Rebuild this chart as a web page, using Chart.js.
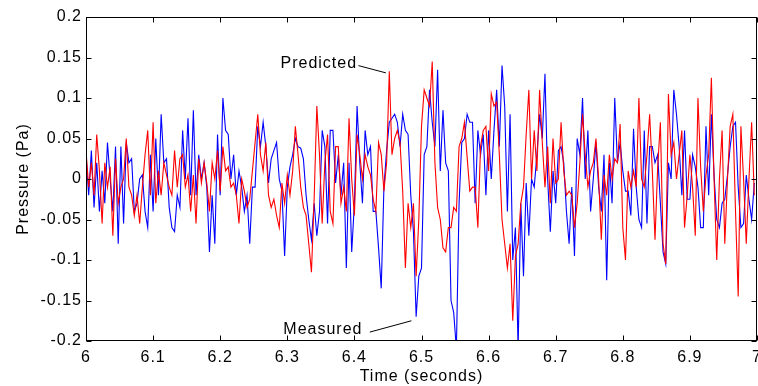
<!DOCTYPE html>
<html>
<head>
<meta charset="utf-8">
<script src="https://cdn.jsdelivr.net/npm/chart.js@4.4.1/dist/chart.umd.min.js"></script>
<style>
  html, body { margin: 0; padding: 0; background: #fff; }
  #wrap { width: 758px; height: 386px; }
</style>
</head>
<body>
<div id="wrap"><canvas id="c" width="758" height="386"></canvas></div>
<script>
// ---- data ----
const sampleStart = 6.0;      // seconds
const sampleStep = 0.004;     // seconds between samples

const measured = [
  0.03, -0.02, 0.035, -0.035, 0.02, -0.04, 0.01, -0.03, 0.045, 0.0, -0.04, 0.04, -0.08, 0.04, -0.055, 0.045,
  0.02, 0.025, -0.04, -0.03, 0.0, 0.005, -0.04, -0.06, 0.03, -0.04, 0.05, -0.02, 0.08, 0.02, 0.025, -0.035,
  -0.06, -0.065, -0.02, -0.035, 0.06, 0.0, 0.075, -0.02, 0.085, -0.02, 0.03, 0.0, 0.02, -0.01, -0.09, -0.02,
  -0.08, 0.055, -0.02, 0.1, 0.06, 0.055, 0.0, 0.03, -0.02, 0.01, -0.01, -0.04, -0.02, -0.08, -0.01, -0.01,
  0.065, 0.04, 0.07, 0.04, -0.005, 0.025, 0.035, 0.045, 0.0, -0.015, -0.095, -0.01, 0.015, 0.03, 0.05, 0.04,
  0.038, 0.025, -0.02, -0.05, -0.075, -0.03, -0.07, -0.04, 0.06, 0.04, -0.055, 0.06, 0.06, -0.005, 0.03,
  -0.02, 0.02, -0.11, 0.02, -0.09, -0.03, 0.09, 0.02, -0.03, 0.06, 0.03, 0.04, -0.04, -0.04, -0.085, -0.135,
  -0.01, 0.035, 0.07, 0.075, 0.08, 0.07, 0.04, 0.08, 0.06, 0.055, -0.02, -0.065, -0.17, -0.12, -0.11,
  0.03, 0.04, 0.11, 0.07, 0.04, 0.135, 0.01, 0.085, 0.02, 0.01, -0.15, -0.165, -0.21, -0.03, 0.045, 0.05,
  0.08, 0.07, 0.07, -0.03, 0.06, 0.03, 0.055, -0.02, 0.06, 0.0, 0.06, 0.11, 0.04, 0.14, 0.09,
  -0.04, 0.08, -0.1, -0.06, -0.21, -0.03, -0.12, -0.005, -0.07, 0.0, -0.01, 0.03, 0.08, 0.05, 0.13, 0.0,
  -0.065, 0.01, -0.03, 0.035, 0.04, 0.02, -0.04, -0.08, -0.01, -0.095, 0.05, 0.03, 0.1, 0.0, 0.06, -0.04,
  0.0, 0.045, -0.01, -0.04, 0.03, -0.125, 0.02, -0.03, 0.1, 0.02, 0.045, 0.01, -0.015, -0.015, -0.045, 0.062,
  -0.01, -0.05, -0.06, 0.06, -0.055, 0.04, 0.04, 0.02, 0.03, -0.03, -0.09, -0.105, 0.02, 0.0, 0.11,
  0.08, 0.04, -0.02, 0.06, -0.025, -0.025, 0.03, 0.015, -0.01, -0.06, -0.06, 0.065, -0.02, 0.08, 0.005,
  -0.05, -0.06, -0.03, -0.025, 0.005, 0.04, 0.065, 0.07, -0.01, -0.06, -0.055, 0.005, -0.025, -0.05, -0.005
];

const predicted = [
  0.035, -0.01, 0.02, -0.02, 0.055, 0.01, -0.055, 0.02, -0.01, 0.015, -0.07, 0.025, -0.03, -0.01, 0.0, 0.05,
  -0.01, -0.02, -0.045, -0.02, -0.055, -0.01, 0.03, 0.06, -0.02, 0.07, -0.03, 0.01, -0.02, 0.02, 0.005, -0.01,
  -0.02, 0.035, -0.01, 0.025, 0.03, -0.01, 0.005, -0.04, 0.005, -0.055, 0.025, -0.005, 0.02, -0.005, -0.04, 0.02,
  0.0, 0.035, -0.015, 0.04, 0.01, 0.015, -0.01, -0.005, -0.02, -0.055, 0.0, -0.015, -0.035, -0.025, 0.01, 0.045,
  0.08, 0.03, 0.01, 0.045, -0.02, -0.035, -0.025, -0.045, -0.06, -0.005, -0.03, 0.005, -0.02, 0.01, 0.065, 0.03,
  -0.01, -0.035, -0.045, -0.08, -0.115, -0.025, 0.09, 0.03, -0.055, 0.02, 0.055, -0.04, -0.055, 0.04, 0.04,
  -0.03, -0.01, -0.04, 0.075, 0.0, -0.045, 0.055, 0.03, 0.0, 0.03, 0.015, 0.005, -0.025, -0.04, 0.045, 0.03,
  -0.015, 0.02, 0.133, 0.03, 0.05, 0.06, 0.045, -0.015, -0.11, -0.03, -0.06, -0.03, -0.12, -0.05, 0.065,
  0.11, 0.1, 0.09, 0.145, 0.02, -0.035, -0.05, -0.085, -0.09, -0.06, -0.06, -0.035, -0.04, 0.04, 0.05, 0.07,
  0.027, -0.015, -0.01, -0.01, -0.06, 0.04, 0.06, 0.065, 0.01, 0.105, 0.09, 0.095, 0.03, -0.05, -0.08,
  -0.11, -0.08, -0.175, -0.095, -0.08, -0.03, -0.01, 0.055, 0.11, 0.0, 0.06, 0.01, 0.11, 0.045, -0.01, 0.04,
  -0.03, 0.05, -0.005, 0.0, 0.07, 0.01, -0.02, -0.015, -0.02, -0.06, -0.03, 0.02, 0.08, 0.03, -0.01, 0.01,
  0.02, 0.05, 0.0, -0.075, 0.005, -0.02, 0.03, 0.0, 0.025, 0.02, 0.068, -0.06, -0.1, 0.01, -0.01, 0.01,
  -0.01, 0.1, 0.0, -0.01, 0.03, 0.08, 0.01, -0.075, 0.015, 0.07, -0.08, -0.105, 0.105, 0.03, 0.045,
  0.0, 0.03, 0.06, -0.06, -0.02, 0.03, -0.01, -0.07, 0.1, 0.015, -0.04, 0.005, 0.03, 0.125, 0.0,
  -0.1, 0.0, 0.06, -0.08, 0.0, 0.065, 0.08, -0.04, -0.145, 0.065, 0.0, -0.08, 0.0, 0.07, -0.02
];

const xTickLabels = ['6', '6.1', '6.2', '6.3', '6.4', '6.5', '6.6', '6.7', '6.8', '6.9', '7'];
const yTickLabels = ['-0.2', '-0.15', '-0.1', '-0.05', '0', '0.05', '0.1', '0.15', '0.2'];

const notes = [
  { text: 'Predicted', t: 6.404, v: 0.143, from: [6.406, 0.140], to: [6.447, 0.131] },
  { text: 'Measured',  t: 6.412, v: -0.186, from: [6.423, -0.189], to: [6.485, -0.175] }
];

// ---- build ----
const toPoints = arr => arr.map((v, i) => ({ x: sampleStart + i * sampleStep, y: v }));

const FONT = '"Liberation Sans", Arial, Helvetica, sans-serif';
Chart.defaults.font.family = FONT;
Chart.defaults.font.size = 16;
Chart.defaults.color = '#000';

const frame = {
  id: 'frame',
  beforeDraw(chart) {
    chart.ctx.letterSpacing = '1px';
  },
  afterDatasetsDraw(chart) {
    const { ctx, chartArea: a, scales: { x, y } } = chart;
    ctx.save();
    ctx.strokeStyle = '#000';
    ctx.lineWidth = 1;
    const line = (x1, y1, x2, y2) => { ctx.beginPath(); ctx.moveTo(x1, y1); ctx.lineTo(x2, y2); ctx.stroke(); };
    const L = Math.round(a.left) + 0.5, R = Math.round(a.right) - 0.5;
    const T = Math.round(a.top) + 0.5, B = Math.round(a.bottom) - 0.5;
    ctx.strokeRect(L, T, R - L, B - T);
    x.ticks.forEach((t, i) => {
      const px = Math.round(x.getPixelForTick(i)) + 0.5;
      line(px, B, px, B - 5);
      line(px, T, px, T + 5);
    });
    y.ticks.forEach((t, i) => {
      const py = Math.round(y.getPixelForTick(i)) + 0.5;
      line(L, py, L + 5, py);
      line(R, py, R - 5, py);
    });
    // annotations
    ctx.font = '16px ' + FONT;
    ctx.fillStyle = '#000';
    ctx.textAlign = 'right';
    ctx.textBaseline = 'middle';
    notes.forEach(n => {
      ctx.fillText(n.text, x.getPixelForValue(n.t), y.getPixelForValue(n.v));
      line(x.getPixelForValue(n.from[0]), y.getPixelForValue(n.from[1]),
           x.getPixelForValue(n.to[0]), y.getPixelForValue(n.to[1]));
    });
    ctx.restore();
  }
};

new Chart(document.getElementById('c'), {
  type: 'line',
  data: {
    datasets: [
      { label: 'Measured', data: toPoints(measured), borderColor: '#0000ff', borderWidth: 1.1, pointRadius: 0, tension: 0, order: 2 },
      { label: 'Predicted', data: toPoints(predicted), borderColor: '#ff0000', borderWidth: 1.1, pointRadius: 0, tension: 0, order: 1 }
    ]
  },
  options: {
    responsive: false,
    animation: false,
    events: [],
    layout: { autoPadding: false, padding: { top: 17, right: 1, left: 0, bottom: 0 } },
    plugins: { legend: { display: false }, tooltip: { enabled: false } },
    scales: {
      x: {
        type: 'linear', min: 6, max: 7,
        grid: { display: false, drawTicks: false }, border: { display: false },
        ticks: {
          stepSize: 0.1, maxRotation: 0, autoSkip: false, padding: 7,
          callback: (v, i) => xTickLabels[i]
        },
        title: { display: true, text: 'Time (seconds)', padding: { top: 0, bottom: 0 } },
        afterFit: s => { s.height = 45; s.paddingLeft = 0; s.paddingRight = 0; }
      },
      y: {
        min: -0.2, max: 0.2,
        grid: { display: false, drawTicks: false }, border: { display: false },
        ticks: {
          stepSize: 0.05, padding: 4, autoSkip: false,
          callback: (v, i) => yTickLabels[i]
        },
        title: { display: true, text: 'Pressure (Pa)', padding: { top: 14, bottom: 0 } },
        afterFit: s => { s.width = 86; s.paddingTop = 0; s.paddingBottom = 0; }
      }
    }
  },
  plugins: [frame]
});
</script>
</body>
</html>
